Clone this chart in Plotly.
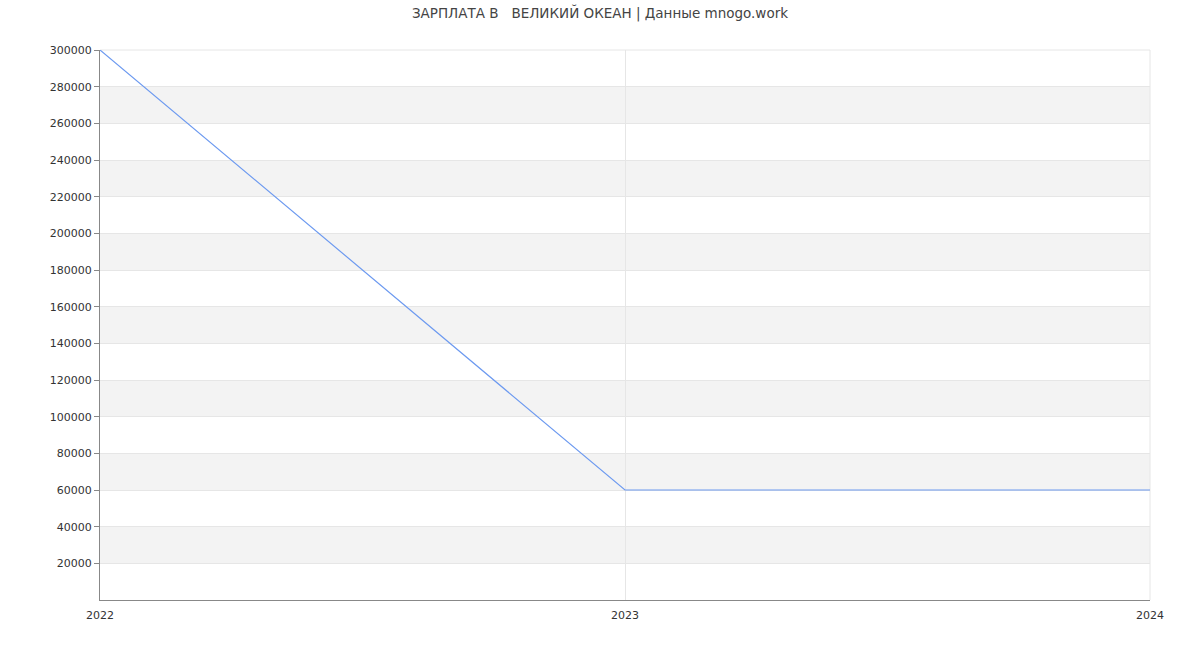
import plotly.graph_objects as go

years = [2022, 2023, 2024]
salary = [300000, 60000, 60000]
y_ticks = list(range(20000, 300001, 20000))
x_ticks = [2022, 2023, 2024]
band_starts = list(range(20000, 300000, 40000))

fig = go.Figure()
fig.add_trace(go.Scatter(x=years, y=salary, mode="lines",
                         line=dict(color="#6d9af0", width=1.2),
                         hoverinfo="x+y", showlegend=False))

shapes = []
for b in band_starts:
    shapes.append(dict(type="rect", xref="paper", yref="y", x0=0, x1=1,
                       y0=b, y1=b + 20000, fillcolor="#f3f3f3",
                       line=dict(width=0), layer="below"))

fig.update_layout(
    width=1200, height=650,
    margin=dict(l=100, r=50, t=50, b=50),
    paper_bgcolor="white", plot_bgcolor="white",
    font=dict(family="DejaVu Sans", size=11, color="#333"),
    title=dict(text="ЗАРПЛАТА В   ВЕЛИКИЙ ОКЕАН | Данные mnogo.work",
               x=0.5, xanchor="center", y=0.987, yanchor="top",
               font=dict(size=13.5, color="#444")),
    shapes=shapes,
    xaxis=dict(range=[2022, 2024], tickvals=x_ticks, ticktext=[str(v) for v in x_ticks],
               showgrid=True, gridcolor="#e6e6e6", zeroline=False,
               showline=True, linecolor="#888", ticks="", ticklen=0,
               ticklabelstandoff=5,
               tickfont=dict(size=11, color="#333"), fixedrange=True),
    yaxis=dict(range=[0, 300000], tickvals=y_ticks, ticktext=[str(v) for v in y_ticks],
               showgrid=True, gridcolor="#e6e6e6", zeroline=False,
               showline=True, linecolor="#888", ticks="outside", ticklen=5,
               tickcolor="#888", tickfont=dict(size=11, color="#333"), fixedrange=True),
)
fig.add_shape(type="line", xref="paper", yref="paper", x0=1, x1=1, y0=0, y1=1,
              line=dict(color="#e6e6e6", width=1), layer="below")
fig.add_shape(type="line", xref="paper", yref="paper", x0=0, x1=1, y0=1, y1=1,
              line=dict(color="#e6e6e6", width=1), layer="below")

fig.write_html("out.html")
